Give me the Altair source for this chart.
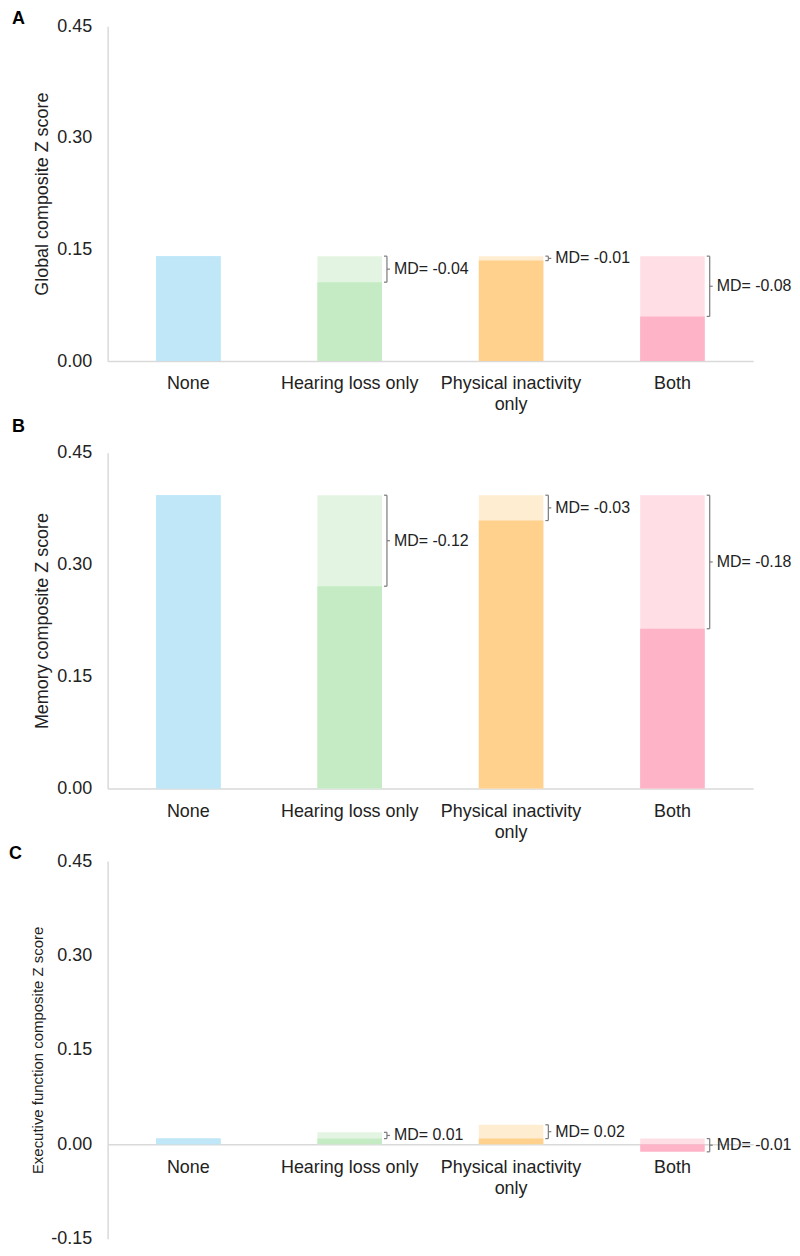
import altair as alt
import pandas as pd

FONT = "Liberation Sans"

categories = ["None", "Hearing loss only", "Physical inactivity only", "Both"]
solid_colors = ["#BFE7F7", "#C4EBC3", "#FFD18D", "#FFB3C7"]
light_colors = ["#BFE7F7", "#E3F5E2", "#FFEDD1", "#FFDEE6"]

# Panel A – Global composite
global_vals = [0.141, 0.106, 0.135, 0.060]
global_md = ["", "MD= -0.04", "MD= -0.01", "MD= -0.08"]

# Panel B – Memory composite
memory_vals = [0.393, 0.271, 0.359, 0.214]
memory_md = ["", "MD= -0.12", "MD= -0.03", "MD= -0.18"]

# Panel C – Executive function composite
exec_vals = [0.009, 0.019, 0.031, -0.012]
exec_md = ["", "MD= 0.01", "MD= 0.02", "MD= -0.01"]

ticks_ab = [0.0, 0.15, 0.30, 0.45]
ticks_c = [-0.15, 0.0, 0.15, 0.30, 0.45]

AXIS_COLOR = "#D9D9D9"
TEXT_COLOR = "#222222"
BRACKET_COLOR = "#7a7a7a"
PLOT_W = 648


def panel(letter, ytitle, ytitle_size, vals, mds, domain, ticks, height, title_offset):
    ref = vals[0]
    bars = pd.DataFrame({
        "cat": categories,
        "light": [max(ref, v) if i > 0 else v for i, v in enumerate(vals)],
        "solid": [min(ref, v) if i > 0 else v for i, v in enumerate(vals)],
    })
    br = pd.DataFrame({
        "cat": categories[1:],
        "top": [ref] * 3,
        "bot": vals[1:],
        "mid": [(ref + v) / 2 for v in vals[1:]],
        "label": mds[1:],
    })

    zero_frac = (domain[1] - 0) / (domain[1] - domain[0])
    x_offset = -(1 - zero_frac) * height

    xenc = alt.X(
        "cat:N",
        sort=categories,
        scale=alt.Scale(domain=categories, paddingInner=0.6, paddingOuter=0.3),
        axis=alt.Axis(
            title=None, labelAngle=0, ticks=False, domainColor=AXIS_COLOR,
            domainWidth=1.5, labelPadding=14, labelFontSize=18, labelFont=FONT,
            labelColor=TEXT_COLOR, labelLineHeight=21, offset=x_offset,
            labelExpr="datum.label == 'Physical inactivity only' ? ['Physical inactivity', 'only'] : datum.label",
        ),
    )
    yscale = alt.Scale(domain=domain, nice=False, zero=False)
    yaxis = alt.Axis(
        values=ticks, format=".2f", grid=False, ticks=False, domainColor=AXIS_COLOR,
        domainWidth=1.5, labelPadding=16, labelFontSize=18, labelFont=FONT,
        labelColor=TEXT_COLOR, title=ytitle, titleFontSize=ytitle_size,
        titleFont=FONT, titleFontWeight="normal", titleColor=TEXT_COLOR,
        titlePadding=5, labelExpr="replace(datum.label, '\u2212', '-')",
    )

    base = alt.Chart(bars)
    light = base.mark_bar().encode(
        x=xenc,
        y=alt.Y("light:Q", scale=yscale, axis=yaxis, stack=None),
        color=alt.Color("cat:N", scale=alt.Scale(domain=categories, range=light_colors), legend=None),
    )
    solid = base.mark_bar().encode(
        x=alt.X("cat:N", sort=categories),
        y=alt.Y("solid:Q", stack=None),
        color=alt.Color("cat:N", scale=alt.Scale(domain=categories, range=solid_colors), legend=None),
    )

    bbase = alt.Chart(br)
    xr = alt.X("cat:N", sort=categories, bandPosition=1)
    x2r = alt.X2("cat:N", bandPosition=1)
    vert = bbase.mark_rule(color=BRACKET_COLOR, strokeWidth=1.2, xOffset=5).encode(
        x=xr, y="top:Q", y2="bot:Q"
    )
    hook_top = bbase.mark_rule(color=BRACKET_COLOR, strokeWidth=1.2, xOffset=2, x2Offset=5).encode(
        x=xr, x2=x2r, y="top:Q"
    )
    hook_bot = bbase.mark_rule(color=BRACKET_COLOR, strokeWidth=1.2, xOffset=2, x2Offset=5).encode(
        x=xr, x2=x2r, y="bot:Q"
    )
    mid_tick = bbase.mark_rule(color=BRACKET_COLOR, strokeWidth=1.2, xOffset=5, x2Offset=8).encode(
        x=xr, x2=x2r, y="mid:Q"
    )
    label = bbase.mark_text(
        align="left", baseline="middle", dx=12, fontSize=16, font=FONT, color=TEXT_COLOR
    ).encode(x=xr, y="mid:Q", text="label:N")

    return alt.layer(light, solid, vert, hook_top, hook_bot, mid_tick, label).resolve_scale(
        color="independent"
    ).properties(
        width=PLOT_W,
        height=height,
        title=alt.TitleParams(
            letter, anchor="start", frame="bounds", fontSize=18, fontWeight="bold",
            font=FONT, color="#000000", dx=-22, offset=title_offset,
        ),
    )


pa = panel("A", "Global composite Z score", 18, global_vals, global_md, [0, 0.45], ticks_ab, 336, -11)
pb = panel("B", "Memory composite Z score", 18, memory_vals, memory_md, [0, 0.45], ticks_ab, 337, 8)
pc = panel("C", "Executive function composite Z score", 15, exec_vals, exec_md, [-0.15, 0.45], ticks_c, 379, -11)

chart = alt.vconcat(pa, pb, pc, spacing=4).properties(
    padding={"left": 0, "top": 0, "right": 0, "bottom": 0}
).configure_view(strokeWidth=0)

chart.save("out.html", embed_options={"renderer": "svg", "actions": False})
